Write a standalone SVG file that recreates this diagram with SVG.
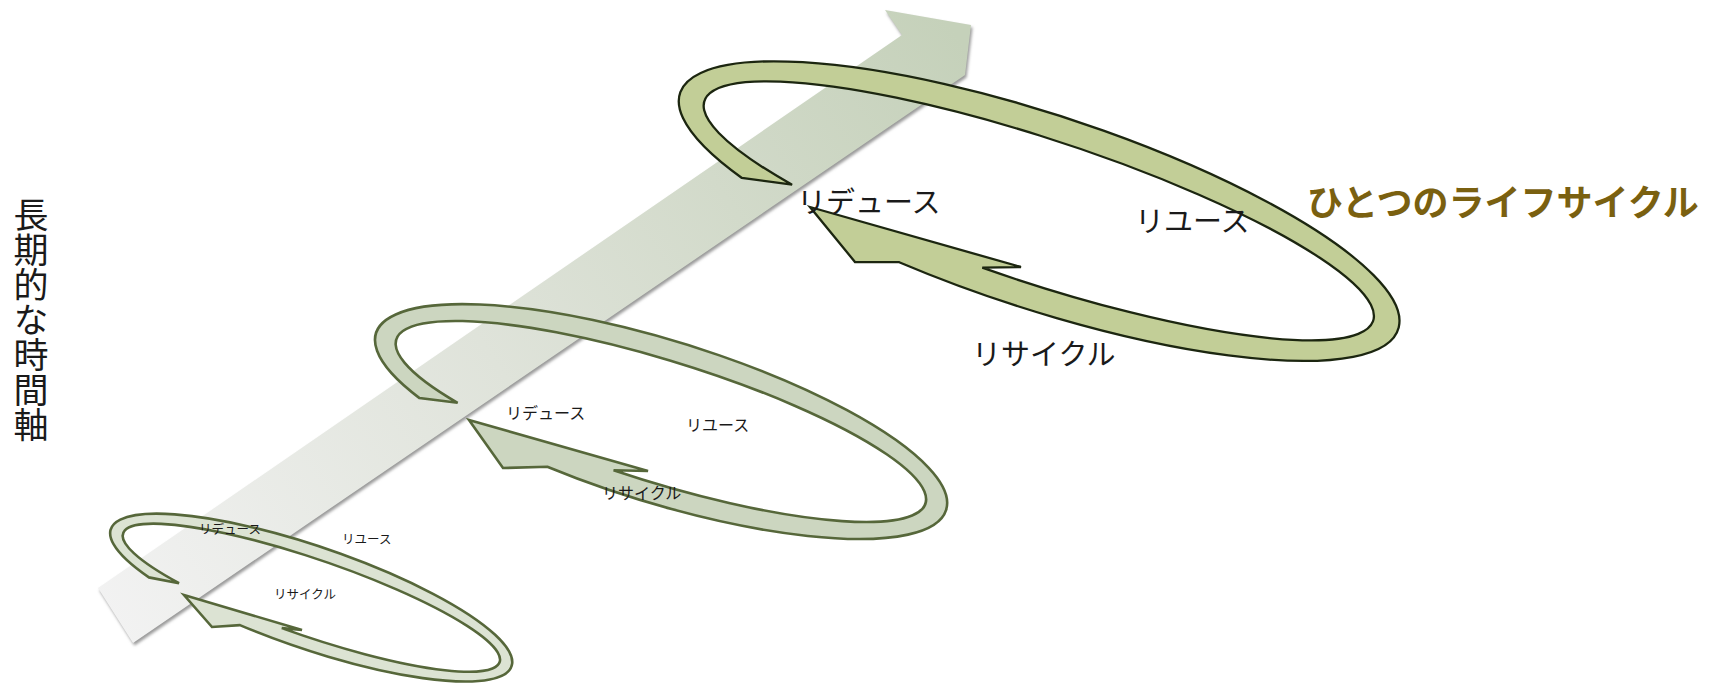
<svg xmlns="http://www.w3.org/2000/svg" width="1710" height="687" viewBox="0 0 1710 687">
<style>
.lbl{font-family:"Noto Sans CJK JP","Noto Sans",sans-serif;fill:#1a1a1a}
.big{stroke:#1c2610;stroke-width:2.3;fill:#c2ce97;stroke-linejoin:miter}
.mid{stroke:#56673a;stroke-width:2.6;fill:#ccd6c0;stroke-linejoin:miter}
.sml{stroke:#56673a;stroke-width:2.6;fill:#dce3d3;stroke-linejoin:miter}
</style>
<defs>
<linearGradient id="bandGrad" gradientUnits="userSpaceOnUse" x1="110" y1="620" x2="960" y2="40">
<stop offset="0" stop-color="#f2f2f2"/>
<stop offset="0.45" stop-color="#dfe3da"/>
<stop offset="1" stop-color="#c5d1ba"/>
</linearGradient>
<filter id="blur" x="-10%" y="-10%" width="120%" height="120%"><feGaussianBlur stdDeviation="1.6"/></filter>
</defs>
<g id="axis">
<polygon points="885,10 971,25 965,75 133,643 98,588 902,35" fill="#9a9a9a" transform="translate(1.5,2.5)" filter="url(#blur)"/>
<polygon points="885,10 971,25 965,75 133,643 98,588 902,35" fill="url(#bandGrad)"/>
</g>
<g id="cycle-small">
<path class="sml" d="M 148.9 577.4 A 211.8 51.1 18.9 1 1 239.9 625.1 L 212 627 L 184 595 L 302 630 L 281.8 628.1 A 199 38.5 18.9 1 0 179.0 583.2 Z"/>
<text class="lbl" font-size="12.5" x="199" y="534">リデュース</text>
<text class="lbl" font-size="12.5" x="342" y="544">リユース</text>
<text class="lbl" font-size="12.5" x="274" y="599">リサイクル</text>
</g>
<g id="cycle-middle">
<path class="mid" d="M 419.5 398.1 A 298.4 81.1 17.2 1 1 547.3 466.8 L 503 468 L 469 420 L 648 471 L 613.6 470.3 A 277 61 17.2 1 0 457.6 402.8 Z"/>
<text class="lbl" font-size="16" x="506" y="419">リデュース</text>
<text class="lbl" font-size="16" x="686" y="431">リユース</text>
<text class="lbl" font-size="16" x="602" y="499">リサイクル</text>
</g>
<g id="cycle-big">
<path class="big" d="M 741.9 178.0 A 378 97 18.2 1 1 899.2 262.2 L 855 262 L 810 207 L 1021 267 L 982.3 267.7 A 352 72 18.2 1 0 792.1 184.7 Z"/>
<text class="lbl" font-size="29" x="797" y="213">リデュース</text>
<text class="lbl" font-size="29" x="1135" y="232">リユース</text>
<text class="lbl" font-size="29" x="972" y="365">リサイクル</text>
</g>
<g id="title">
<text font-family="'Noto Sans CJK JP','Noto Sans',sans-serif" font-weight="bold" font-size="36" fill="#7a6010" x="1307" y="216">ひとつのライフサイクル</text>
</g>
<g id="time-axis-label">
<text class="lbl" font-size="35" writing-mode="vertical-rl" x="31" y="197">長期的な時間軸</text>
</g>
</svg>
